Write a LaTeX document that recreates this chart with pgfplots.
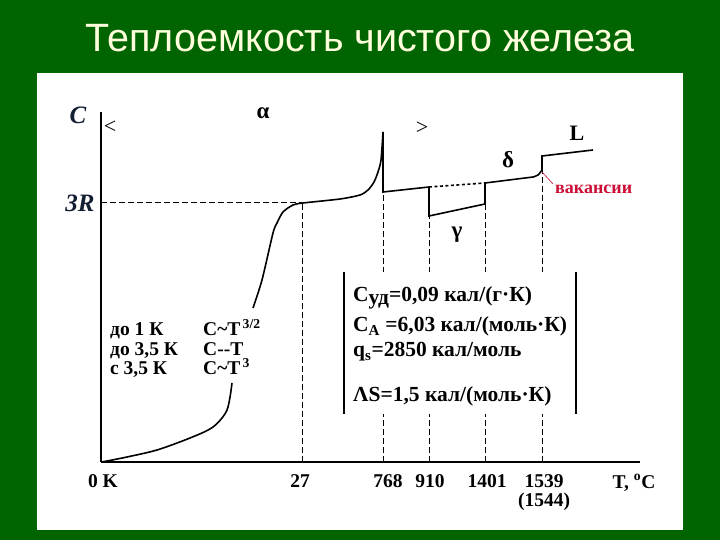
\documentclass[border=0pt]{standalone}
\usepackage{fontspec}
\setmainfont{Liberation Serif}
\newfontfamily\titlefont{Liberation Sans}
\usepackage{pgfplots}
\pgfplotsset{compat=1.18}
\definecolor{bggreen}{RGB}{0,100,0}
\definecolor{titlecol}{RGB}{255,255,222}
\definecolor{vacred}{RGB}{205,15,55}
\definecolor{clabel}{RGB}{20,30,50}
\begin{document}
\begin{tikzpicture}[x=1pt,y=1pt]
\fill[bggreen] (0,0) rectangle (720,540);
\fill[white] (37,10) rectangle (683,467);
\node[anchor=base, text=titlecol, inner sep=0pt, font=\titlefont\fontsize{39.5}{44}\selectfont] at (360,488) {Теплоемкость чистого железа};
\begin{axis}[
  at={(101pt,78pt)}, anchor=south west,
  scale only axis, width=539pt, height=350pt,
  xmin=0, xmax=539, ymin=0, ymax=350,
  axis x line=bottom, axis y line=left,
  axis line style={line width=2.2pt, -},
  xtick={2,199,287,329,386,443},
  xticklabels={0 K,27,768,910,1401,{1539\\(1544)}},
  ytick={259}, yticklabels={\textit{3R}},
  major tick length=0pt,
  xticklabel style={font=\fontsize{19.5}{19}\selectfont\bfseries, align=center, yshift=-9pt},
  yticklabel style={font=\fontsize{25}{27}\selectfont\bfseries, text=clabel, xshift=-3pt},
  clip=false,
]
% dashed guide lines
\addplot[black, line width=1pt, dash pattern=on 6pt off 3pt] coordinates {(0,259) (201,259)};
\addplot[black, line width=1pt, dash pattern=on 6pt off 3pt] coordinates {(201,0) (201,259)};
\addplot[black, line width=1pt, dash pattern=on 6pt off 3pt] coordinates {(282,0) (282,270)};
\addplot[black, line width=1pt, dash pattern=on 6pt off 3pt] coordinates {(328,0) (328,246)};
\addplot[black, line width=1pt, dash pattern=on 6pt off 3pt] coordinates {(384,0) (384,258)};
\addplot[black, line width=1pt, dash pattern=on 6pt off 3pt] coordinates {(441,0) (441,292)};
% low-temperature part of the curve
\addplot[black, line width=1.6pt, smooth, tension=0.5] coordinates {
 (0,0) (6,1) (26,5) (56,12) (89,24) (112,35) (126,52) (131,79)};
% alpha region up to the Curie peak
\addplot[black, line width=1.6pt, smooth, tension=0.45] coordinates {
 (152,154) (161,182) (172,229) (176,239) (182,250) (192,257) (202,259)
 (239,263) (259,267) (267,272) (273,280) (277,290) (280,302) (282,330)};
% steps
\addplot[black, line width=1.6pt] coordinates {
 (282,330) (282,270) (328,275) (328,246) (384,258) (384,279) (432,285)};
\addplot[black, line width=1.6pt, smooth, tension=0.5] coordinates {
 (432,285) (437,287) (441,292)};
\addplot[black, line width=1.6pt] coordinates {(441,292) (441,306) (492,312)};
% dotted continuation
\addplot[black, line width=1.6pt, dash pattern=on 3pt off 2.5pt] coordinates {(328,275) (384,279)};
% red leader
\addplot[vacred, line width=0.6pt] coordinates {(441,290) (452,278)};
% info box
\fill[white] (axis cs:243,48) rectangle (axis cs:475,190);
\draw[black, line width=1.1pt] (axis cs:243,48) -- (axis cs:243,190);
\draw[black, line width=1.1pt] (axis cs:475,48) -- (axis cs:475,190);
\begin{scope}[every node/.style={anchor=base west, inner sep=0pt, font=\fontsize{21.5}{23}\selectfont\bfseries}]
\node at (axis cs:252,160) {C\raisebox{-3pt}{уд}=0,09 кал/(г·К)};
\node at (axis cs:252,130) {C\textsubscript{A} =6,03 кал/(моль·К)};
\node at (axis cs:252,105) {q\textsubscript{s}=2850 кал/моль};
\node at (axis cs:252,60) {ΛS=1,5 кал/(моль·К)};
\end{scope}
\begin{scope}[every node/.style={anchor=base west, inner sep=0pt, font=\fontsize{19.5}{20}\selectfont\bfseries}]
\node at (axis cs:9,126) {до 1 К};
\node at (axis cs:9,106) {до 3,5 К};
\node at (axis cs:9,87) {с 3,5 К};
\node at (axis cs:102,126) {C\textasciitilde T\textsuperscript{\,3/2}};
\node at (axis cs:102,106) {C-{}-T};
\node at (axis cs:102,87) {C\textasciitilde T\textsuperscript{\,3}};
\end{scope}
% labels
\node[font=\fontsize{25}{27}\selectfont\bfseries\itshape, text=clabel] at (axis cs:-23,347) {C};
\node[font=\fontsize{22}{24}\selectfont] at (axis cs:9,335) {<};
\node[font=\fontsize{22}{24}\selectfont] at (axis cs:321,334) {>};
\node[font=\fontsize{23}{25}\selectfont\bfseries] at (axis cs:162,349) {α};
\node[font=\fontsize{23}{25}\selectfont\bfseries] at (axis cs:407,302) {δ};
\node[font=\fontsize{23}{25}\selectfont\bfseries] at (axis cs:356,227) {γ};
\node[font=\fontsize{22}{24}\selectfont\bfseries] at (axis cs:476,329) {L};
\node[font=\fontsize{18}{20}\selectfont\bfseries, text=vacred, anchor=west, inner sep=0pt] at (axis cs:454,273) {вакансии};
\node[font=\fontsize{19.5}{21}\selectfont\bfseries] at (axis cs:533,-21) {T, \textsuperscript{o}C};
\end{axis}
\end{tikzpicture}
\end{document}
